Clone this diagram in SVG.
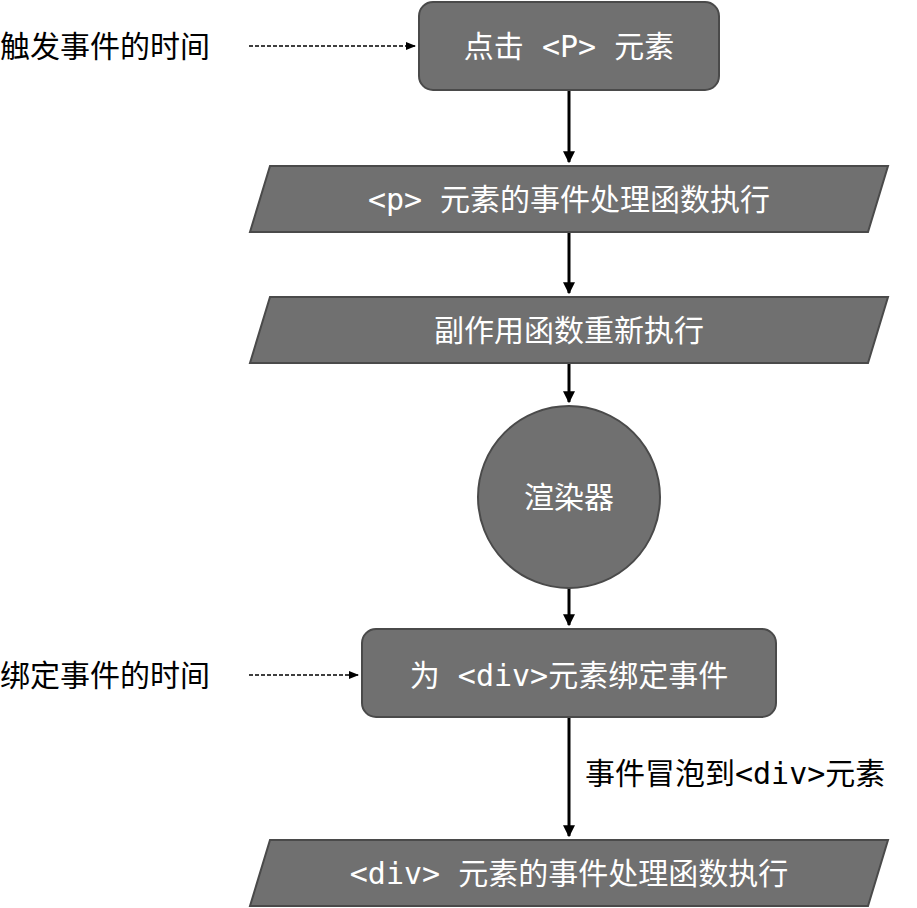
<svg xmlns="http://www.w3.org/2000/svg" width="917" height="908" viewBox="0 0 917 908">
<defs>
<style>
.n{fill:#707070;stroke:#4a4a4a;stroke-width:2}
.t{fill:#fff;font-family:"DejaVu Sans Mono","Noto Sans CJK SC",monospace;font-size:30px;text-anchor:middle;dominant-baseline:central}
.l{fill:#000;font-family:"DejaVu Sans Mono","Noto Sans CJK SC",monospace;font-size:30px;dominant-baseline:central}
.c{stroke:#000;stroke-width:3;fill:none}
.d{stroke:#000;stroke-width:1.3;fill:none;stroke-dasharray:4 2}
</style>
<marker id="a" viewBox="0 0 10 10" refX="9" refY="5" markerWidth="4" markerHeight="4" orient="auto"><path d="M0,0L10,5L0,10z" fill="#000"/></marker>
<marker id="b" viewBox="0 0 10 10" refX="9" refY="5" markerWidth="8" markerHeight="8" orient="auto"><path d="M0,1L10,5L0,9z" fill="#000"/></marker>
</defs>
<g id="connectors">
<path class="c" d="M569,90V162" marker-end="url(#a)"/>
<path class="c" d="M569,232V293" marker-end="url(#a)"/>
<path class="c" d="M569,363V402" marker-end="url(#a)"/>
<path class="c" d="M569,588V625" marker-end="url(#a)"/>
<path class="c" d="M569,717V836" marker-end="url(#a)"/>
<path class="d" d="M249,46H415" marker-end="url(#b)"/>
<path class="d" d="M249,675H358" marker-end="url(#b)"/>
<text class="l" x="585" y="773">事件冒泡到&lt;div&gt;元素</text>
</g>
<g id="n1"><rect class="n" x="419" y="2" width="300" height="88" rx="14"/><text class="t" x="569" y="46">点击 &lt;P&gt; 元素</text></g>
<g id="n2"><polygon class="n" points="270,166 888,166 868,232 250,232"/><text class="t" x="569" y="199">&lt;p&gt; 元素的事件处理函数执行</text></g>
<g id="n3"><polygon class="n" points="270,297 888,297 868,363 250,363"/><text class="t" x="569" y="330">副作用函数重新执行</text></g>
<g id="n4"><circle class="n" cx="569" cy="497" r="91"/><text class="t" x="569" y="497">渲染器</text></g>
<g id="n5"><rect class="n" x="362" y="629" width="414" height="88" rx="14"/><text class="t" x="569" y="675">为 &lt;div&gt;元素绑定事件</text></g>
<g id="n6"><polygon class="n" points="270,840 888,840 868,906 250,906"/><text class="t" x="569" y="873">&lt;div&gt; 元素的事件处理函数执行</text></g>
<g id="labels">
<text class="l" x="0" y="46">触发事件的时间</text>
<text class="l" x="0" y="675">绑定事件的时间</text>
</g>
</svg>
